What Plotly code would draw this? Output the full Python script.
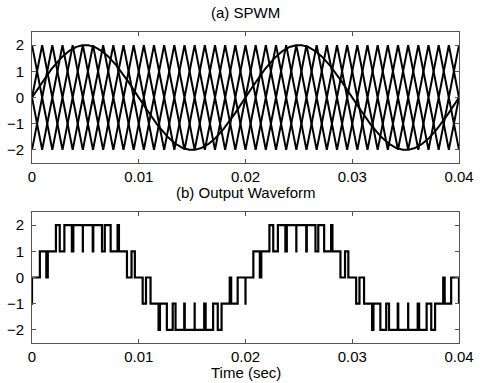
import numpy as np
import plotly.graph_objects as go
from plotly.subplots import make_subplots

# ---- data ----
time_range = [0, 0.04]            # seconds
fundamental_hz = 50               # sine reference: peak at 0.005 s, trough at 0.015 s
reference_amplitude = 2
carrier_hz = 525                  # ~43 carrier peaks across 0.04 s
carrier_bands = [(0, 2), (-2, 0)] # level-shifted bands
carrier_phases = [0.0, 0.5]       # two anti-phase carriers per band (diamond pattern)
y_tick_vals = [-2, -1, 0, 1, 2]
x_tick_vals = [0, 0.01, 0.02, 0.03, 0.04]
x_tick_text = ["0", "0.01", "0.02", "0.03", "0.04"]
title_a = "(a) SPWM"
title_b = "(b) Output Waveform"
x_label = "Time (sec)"

# ---- build signals ----
half_period = 1.0 / (2 * carrier_hz)
n_half = int(np.ceil(time_range[1] / half_period)) + 1
vertex_t = np.arange(n_half + 1) * half_period

carriers = []
for lo, hi in carrier_bands:
    for ph in carrier_phases:
        start_hi = (ph == 0.0)
        vals = np.array([hi if ((k % 2 == 0) == start_hi) else lo for k in range(n_half + 1)], dtype=float)
        carriers.append((vertex_t, vals))

t_sine = np.linspace(time_range[0], time_range[1], 1201)
sine = reference_amplitude * np.sin(2 * np.pi * fundamental_hz * t_sine)

t_fine = np.linspace(time_range[0], time_range[1], 80001)
s_fine = reference_amplitude * np.sin(2 * np.pi * fundamental_hz * t_fine)
level = np.zeros_like(t_fine)
for ct, cv in carriers:
    level += (s_fine > np.interp(t_fine, ct, cv)).astype(float)
level -= len(carriers) / 2
keep = np.concatenate([[True], np.diff(level) != 0])
keep[-1] = True
t_out = t_fine[keep]
v_out = level[keep]

# ---- figure ----
fig = make_subplots(rows=2, cols=1, vertical_spacing=0.0)
line_style = dict(color="black", width=2)
for ct, cv in carriers:
    fig.add_trace(go.Scatter(x=ct, y=cv, mode="lines", line=line_style, showlegend=False,
                             hoverinfo="skip"), row=1, col=1)
fig.add_trace(go.Scatter(x=t_sine, y=sine, mode="lines", line=line_style, showlegend=False,
                         hoverinfo="skip"), row=1, col=1)
fig.add_trace(go.Scatter(x=t_out, y=v_out, mode="lines", line=dict(color="black", width=2.2, shape="hv"),
                         showlegend=False, hoverinfo="skip"), row=2, col=1)

font = dict(family="Liberation Sans, Arial, sans-serif", size=15, color="black")
axis_common = dict(showgrid=False, zeroline=False, showline=True, mirror="ticks",
                   linecolor="#555555", linewidth=1, ticks="inside", ticklen=4,
                   tickcolor="#555555", tickfont=font, automargin=False)

W, H = 481, 383
L, R, T, B = 32, 22, 32, 40
ph_ = H - T - B

def ypix(p):
    return (H - B - p) / ph_

def dom(top_px, bot_px):
    return [ypix(bot_px), ypix(top_px)]

fig.update_layout(
    width=W, height=H,
    margin=dict(l=L, r=R, t=T, b=B, autoexpand=False),
    paper_bgcolor="white", plot_bgcolor="white",
    font=font,
    showlegend=False,
    xaxis=dict(axis_common, domain=[0, 1], range=time_range, tickvals=x_tick_vals, ticktext=x_tick_text),
    xaxis2=dict(axis_common, domain=[0, 1], range=time_range, tickvals=x_tick_vals, ticktext=x_tick_text),
    yaxis=dict(axis_common, domain=dom(32, 163), range=[-2.5, 2.5], tickvals=y_tick_vals, ticklabelstandoff=4),
    yaxis2=dict(axis_common, domain=dom(212, 343), range=[-2.5, 2.5], tickvals=y_tick_vals, ticklabelstandoff=4),
    annotations=[
        dict(text=title_a, x=0.5, xref="paper", y=ypix(13), yref="paper", yanchor="middle",
             showarrow=False, font=font),
        dict(text=title_b, x=0.5, xref="paper", y=ypix(192), yref="paper", yanchor="middle",
             showarrow=False, font=font),
        dict(text=x_label, x=0.5, xref="paper", y=ypix(372), yref="paper", yanchor="middle",
             showarrow=False, font=font),
    ],
)

fig.write_html("out.html", config={"displayModeBar": False},
               post_script="document.body.style.margin='0';document.body.style.overflow='hidden';")
